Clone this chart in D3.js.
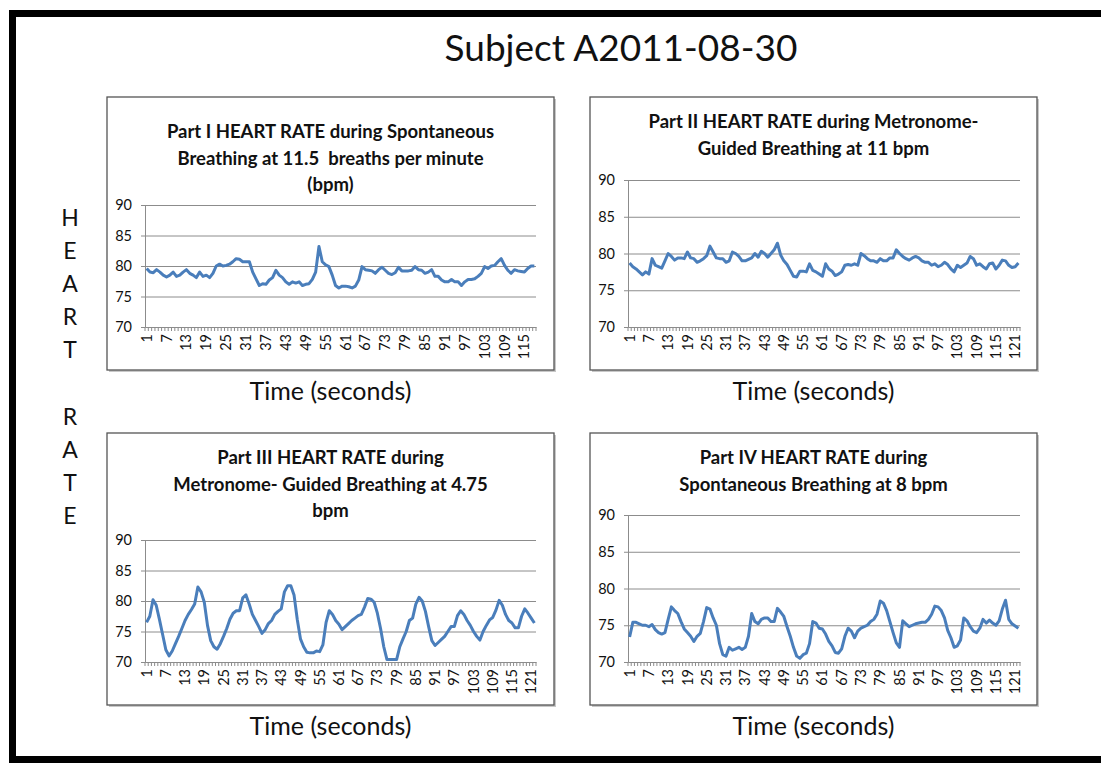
<!DOCTYPE html>
<html>
<head>
<meta charset="utf-8">
<script src="https://cdn.jsdelivr.net/npm/d3@7"></script>
<style>
	html, body { margin: 0; padding: 0; background: #fff; }
	text { font-family: Lato, "Open Sans", sans-serif; fill: #111; white-space: pre; }
</style>
</head>
<body>
<div id="chart"></div>
<script>
// heart rate per second
const part1 = [79.6,79.0,78.9,79.4,79.0,78.5,78.2,78.5,79.0,78.3,
	78.5,79.0,79.4,78.8,78.5,78.1,79.0,78.3,78.5,78.1,
	78.8,80.0,80.3,80.0,80.1,80.3,80.7,81.2,81.1,80.7,
	80.7,80.7,79.0,77.9,76.8,77.1,77.0,77.7,78.1,79.3,
	78.5,78.1,77.4,77.0,77.4,77.2,77.4,76.8,77.0,77.1,
	77.8,79.0,83.2,80.7,80.2,79.9,78.5,76.8,76.4,76.7,
	76.7,76.6,76.4,76.7,77.7,79.9,79.4,79.3,79.2,78.8,
	79.4,79.8,79.3,78.8,78.6,78.9,79.8,79.2,79.2,79.2,
	79.3,79.9,79.4,79.3,78.8,79.0,79.4,78.3,78.3,77.7,
	77.4,77.4,77.8,77.4,77.4,76.8,77.4,77.8,77.8,77.9,
	78.3,78.8,79.9,79.6,80.0,80.1,80.7,81.2,80.1,79.3,
	78.8,79.4,79.2,79.1,79.0,79.6,80.0,80.0];

const part2 = [78.7,78.2,77.9,77.5,77.1,77.5,77.2,79.3,78.4,78.2,
	78.0,79.0,80.0,79.6,79.1,79.4,79.4,79.3,80.2,79.4,79.3,
	78.8,79.0,79.3,79.7,81.0,80.2,79.4,79.3,79.3,78.8,
	79.0,80.2,80.0,79.6,79.0,79.0,79.2,79.4,80.0,79.5,80.3,
	80.0,79.5,80.0,80.5,81.4,79.8,79.0,78.5,77.7,76.9,
	76.8,77.6,77.6,77.5,78.6,77.7,77.5,77.2,76.9,78.6,
	77.9,77.6,77.0,77.2,77.5,78.4,78.5,78.4,78.6,78.4,80.0,
	79.7,79.3,79.0,79.0,78.8,79.3,79.0,79.0,79.4,79.4,
	80.5,80.0,79.6,79.3,79.1,79.4,79.6,79.4,79.0,78.8,78.8,
	78.4,78.6,78.2,78.4,78.8,78.5,77.9,77.5,78.4,78.1,
	78.4,78.7,79.6,79.3,78.4,78.6,78.2,77.9,78.6,78.7,77.9,
	78.4,79.1,79.0,78.4,78.1,78.2,78.7];

const part3 = [76.5,77.5,80.2,79.3,77.0,74.5,72.0,71.0,71.8,73.0,
	74.2,75.5,76.8,77.8,78.6,79.5,82.3,81.5,79.8,76.0,
	73.5,72.5,72.1,73.0,74.2,75.5,77.0,78.0,78.4,78.4,
	80.5,81.0,79.5,77.8,76.8,75.8,74.7,75.3,76.3,76.8,
	77.8,78.3,78.7,81.5,82.5,82.5,81.0,77.0,73.8,72.5,
	71.6,71.5,71.5,71.8,71.7,72.8,76.5,78.4,77.8,76.8,
	76.2,75.3,75.8,76.3,76.8,77.2,77.6,77.8,79.0,80.4,
	80.3,79.8,78.0,75.5,72.5,70.4,70.4,70.4,70.4,72.5,
	73.8,75.0,76.8,77.2,79.5,80.6,80.0,78.3,75.8,73.5,
	72.7,73.2,73.7,74.2,75.0,75.8,75.8,77.6,78.4,77.8,
	76.8,76.0,75.0,74.2,73.6,75.0,76.0,76.9,77.3,78.5,
	80.1,79.3,77.8,76.8,76.4,75.6,75.6,77.5,78.7,78.0,
	77.2,76.4];

const part4 = [73.4,75.4,75.4,75.2,75.0,75.0,74.8,75.1,74.4,74.0,
	73.8,74.0,75.8,77.5,77.0,76.6,75.5,74.5,74.0,73.5,
	72.8,73.5,73.9,75.5,77.4,77.2,76.0,75.0,72.5,71.0,
	70.8,72.0,71.6,71.8,72.0,71.7,72.0,73.5,76.6,75.5,
	75.2,75.8,76.0,76.0,75.5,75.5,77.3,76.8,76.2,74.8,
	73.5,72.0,70.8,70.5,71.0,71.2,72.5,75.5,75.3,74.6,
	74.5,73.8,72.8,72.2,71.3,71.2,71.8,73.5,74.6,74.2,
	73.3,74.2,74.6,74.8,75.0,75.5,75.8,76.5,78.3,78.0,
	77.0,75.5,74.0,72.6,72.0,75.6,75.2,74.8,75.0,75.2,
	75.3,75.4,75.4,75.8,76.5,77.6,77.5,77.0,76.0,74.3,
	73.3,72.0,72.2,73.0,76.0,75.6,74.8,74.2,74.0,74.6,
	75.8,75.3,75.7,75.3,75.0,75.6,77.2,78.4,75.8,75.2,
	74.9,74.6];

const yTicks = [70, 75, 80, 85, 90];
const xLabelStep = 6;
const sideLabel = ['H', 'E', 'A', 'R', 'T', '', 'R', 'A', 'T', 'E'];

const titles = [
	['Part I HEART RATE during Spontaneous', 'Breathing at 11.5  breaths per minute', '(bpm)'],
	['Part II HEART RATE during Metronome-', 'Guided Breathing at 11 bpm'],
	['Part III HEART RATE during', 'Metronome- Guided Breathing at 4.75', 'bpm'],
	['Part IV HEART RATE during', 'Spontaneous Breathing at 8 bpm']
];

const svg = d3.select('#chart').append('svg')
	.attr('width', 1101)
	.attr('height', 763);

// outer frame of the slide
svg.append('rect')
	.attr('x', 12.5).attr('y', 13.5)
	.attr('width', 1101).attr('height', 746)
	.attr('fill', 'none')
	.attr('stroke', '#000')
	.attr('stroke-width', 7);

svg.append('text')
	.attr('x', 621).attr('y', 61)
	.attr('text-anchor', 'middle')
	.style('font-size', '37px')
	.text('Subject A2011-08-30');

svg.append('g').selectAll('text')
	.data(sideLabel)
	.join('text')
	.attr('x', 70)
	.attr('y', (d, i) => 226 + i * 33.1)
	.attr('text-anchor', 'middle')
	.style('font-size', '23px')
	.text(d => d);

const HeartPanel = function (options) {
	this.g = svg.append('g');
	this.box = options.box;
	this.plot = options.plot;
	this.title = options.title;
	this.titleY = options.titleY;
	this.values = options.values;
};

HeartPanel.prototype.scaleX = function () {
	return d3.scaleBand()
		.domain(d3.range(1, this.values.length + 1))
		.range([this.plot.left, this.plot.right]);
};

HeartPanel.prototype.scaleY = function () {
	return d3.scaleLinear()
		.domain([70, 90])
		.range([this.plot.bottom, this.plot.top]);
};

HeartPanel.prototype.draw = function () {
	const g = this.g;
	const b = this.box;
	const x = this.scaleX();
	const y = this.scaleY();
	const half = x.bandwidth() / 2;

	g.append('rect')
		.attr('x', b.x + 2).attr('y', b.y + 2)
		.attr('width', b.w).attr('height', b.h)
		.attr('fill', '#c8c8c8');
	g.append('rect')
		.attr('x', b.x).attr('y', b.y)
		.attr('width', b.w).attr('height', b.h)
		.attr('fill', '#fff')
		.attr('stroke', '#555')
		.attr('stroke-width', 1.3);

	g.append('g').selectAll('text')
		.data(this.title)
		.join('text')
		.attr('x', b.x + b.w / 2)
		.attr('y', (d, i) => this.titleY + i * 26.5)
		.attr('text-anchor', 'middle')
		.style('font-size', '18.5px')
		.style('font-weight', 'bold')
		.text(d => d);

	// gridlines + y labels
	const yAxis = g.append('g')
		.attr('transform', 'translate(' + this.plot.left + ',0)')
		.call(d3.axisLeft(y).tickValues(yTicks).tickSize(4).tickPadding(9));
	yAxis.select('.domain').attr('stroke', '#8c8c8c');
	yAxis.selectAll('.tick line').attr('stroke', '#8c8c8c');
	yAxis.selectAll('.tick text').style('font-size', '14.5px').style('font-family', 'Lato, sans-serif').attr('fill', '#222');
	yAxis.selectAll('.tick').filter(d => d > 70).append('line')
		.attr('x2', this.plot.right - this.plot.left)
		.attr('stroke', '#8c8c8c');

	// category axis with a tick between every second
	const labels = x.domain().filter(d => (d - 1) % xLabelStep === 0);
	const xAxis = g.append('g')
		.attr('transform', 'translate(0,' + this.plot.bottom + ')')
		.call(d3.axisBottom(x).tickValues(labels).tickSize(0));
	xAxis.select('.domain').attr('stroke', '#8c8c8c');
	xAxis.selectAll('.tick text')
		.attr('transform', 'rotate(-90)')
		.attr('text-anchor', 'end')
		.attr('x', -7)
		.attr('y', 0)
		.attr('dy', '0.35em')
		.style('font-size', '14.5px')
		.style('font-family', 'Lato, sans-serif')
		.attr('fill', '#222');
	xAxis.append('g').selectAll('line')
		.data(x.domain().concat([null]))
		.join('line')
		.attr('x1', d => d === null ? this.plot.right : x(d))
		.attr('x2', d => d === null ? this.plot.right : x(d))
		.attr('y2', 4)
		.attr('stroke', '#8c8c8c');

	const lineFn = d3.line()
		.x((d, i) => x(i + 1) + half)
		.y(d => y(d));

	g.append('path')
		.attr('d', lineFn(this.values))
		.attr('fill', 'none')
		.attr('stroke', '#4a7ebb')
		.attr('stroke-width', 3)
		.attr('stroke-linejoin', 'round');

	g.append('text')
		.attr('x', b.x + b.w / 2)
		.attr('y', b.y + b.h + 30)
		.attr('text-anchor', 'middle')
		.style('font-size', '25px')
		.text('Time (seconds)');
};

const panels = [
	{ box: { x: 107, y: 97, w: 447, h: 273 }, plot: { left: 145, right: 536, top: 205, bottom: 327 }, titleY: 138, values: part1, title: titles[0] },
	{ box: { x: 590, y: 97, w: 447, h: 273 }, plot: { left: 628, right: 1020, top: 180, bottom: 327 }, titleY: 128, values: part2, title: titles[1] },
	{ box: { x: 107, y: 433, w: 447, h: 272 }, plot: { left: 145, right: 536, top: 540, bottom: 662 }, titleY: 464, values: part3, title: titles[2] },
	{ box: { x: 590, y: 433, w: 447, h: 272 }, plot: { left: 628, right: 1020, top: 515, bottom: 662 }, titleY: 464, values: part4, title: titles[3] }
];

panels.forEach(function (p) {
	new HeartPanel(p).draw();
});
</script>
</body>
</html>
